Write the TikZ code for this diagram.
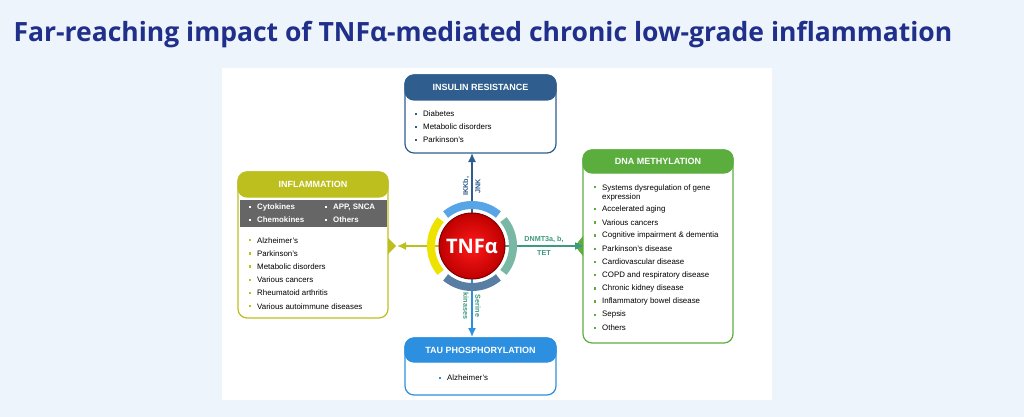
\documentclass[tikz,border=0pt]{standalone}
\usepackage{fontspec}
\setmainfont{Liberation Sans}
\newfontfamily\titlefont{Open Sans}
\usetikzlibrary{positioning,calc,arrows.meta}
\definecolor{bgblue}{HTML}{EEF4FB}
\definecolor{titleblue}{HTML}{1F2F8A}
\definecolor{insblue}{HTML}{2F5E8E}
\definecolor{infolive}{HTML}{BDBF1E}
\definecolor{dnagreen}{HTML}{5BAE3E}
\definecolor{taublue}{HTML}{2D8FE0}
\definecolor{tealarr}{HTML}{3E9A7E}
\tikzset{
  panel/.style={draw=#1, line width=1.2pt, rounded corners=9pt, fill=white},
  header/.style={fill=#1, rounded corners=9pt, draw=#1, line width=1.2pt},
  htext/.style={text=white, font=\bfseries\fontsize{9}{10}\selectfont},
  item/.style={anchor=west, font=\fontsize{7.9}{9.4}\selectfont, inner sep=0},
  bul/.style={fill=#1, minimum size=2.4pt, inner sep=0},
  conn/.style={-{Latex[length=9pt,width=8pt]}, line width=1.5pt, draw=#1},
  elabel/.style={font=\bfseries\fontsize{7.2}{8}\selectfont, text=#1, align=center, inner sep=1pt},
}
\begin{document}
\begin{tikzpicture}[x=1pt,y=-1pt]
\useasboundingbox (0,0) rectangle (1024,417);
\fill[bgblue] (0,0) rectangle (1024,417);
\node[anchor=west, text=titleblue, font=\titlefont\bfseries\fontsize{26.5}{30}\selectfont] (title) at (10,35) {Far-reaching impact of TNFα-mediated chronic low-grade inflammation};
\fill[white] (222,68) rectangle (772,400);

% insulin resistance
\draw[panel=insblue] (405,75) rectangle (556,153);
\draw[header=insblue] (405,75) rectangle (556,100);
\node[htext] (insh) at (480.5,87.5) {INSULIN RESISTANCE};
\foreach \t [count=\i] in {Diabetes, Metabolic disorders, Parkinson's}{
  \node[bul=insblue] at (416,101+\i*13) {};
  \node[item] at (423,101+\i*13) {\t};
}
\coordinate (insb) at (472,153);

% inflammation
\draw[panel=infolive] (238,172) rectangle (388,318);
\draw[header=infolive] (238,172) rectangle (388,197);
\node[htext] (infh) at (313,184.5) {INFLAMMATION};
\fill[gray!80!black] (239.5,200) rectangle (386.5,227);
\foreach \t/\x/\y in {Cytokines/250/207, Chemokines/250/220, {APP, SNCA}/326/207, Others/326/220}{
  \node[bul=white] at (\x,\y) {};
  \node[item, text=white, font=\bfseries\fontsize{7.9}{9}\selectfont] at (\x+7,\y) {\t};
}
\foreach \t [count=\i] in {Alzheimer's, Parkinson's, Metabolic disorders, Various cancers, Rheumatoid arthritis, Various autoimmune diseases}{
  \node[bul=infolive] at (250,227+\i*13.2) {};
  \node[item] at (257,227+\i*13.2) {\t};
}
\fill[infolive] (388,238) -- (396,246) -- (388,254) -- cycle;
\coordinate (infr) at (397,246);

% dna methylation
\draw[panel=dnagreen] (583,150) rectangle (733,343);
\draw[header=dnagreen] (583,150) rectangle (733,173);
\node[htext] (dnah) at (658,161.5) {DNA METHYLATION};
\node[bul=dnagreen] at (595,187) {};
\node[item, align=left] at (602,193) {Systems dysregulation of gene\\expression};
\foreach \t [count=\i] in {Accelerated aging, Various cancers, Cognitive impairment \& dementia, Parkinson's disease, Cardiovascular disease, COPD and respiratory disease, Chronic kidney disease, Inflammatory bowel disease, Sepsis, Others}{
  \node[bul=dnagreen] at (595,196+\i*13.2) {};
  \node[item] at (602,196+\i*13.2) {\t};
}
\fill[dnagreen] (583,236) -- (575,246) -- (583,256) -- cycle;
\coordinate (dnal) at (584,246);

% tau phosphorylation
\draw[panel=taublue] (405,338) rectangle (556,395);
\draw[header=taublue] (405,338) rectangle (556,362);
\node[htext] (tauh) at (480.5,350) {TAU PHOSPHORYLATION};
\node[bul=taublue] at (440,378) {};
\node[item] at (447,378) {Alzheimer's};
\coordinate (taut) at (472,337);

% centre
\coordinate (c) at (472,246);
\draw[conn=insblue] (c) -- (insb);
\draw[conn=infolive] (c) -- (infr);
\draw[conn=tealarr] (c) -- (dnal);
\draw[conn=taublue] (c) -- (taut);
\draw[line width=8pt, insblue!80] ($(c)+(50:41)$) arc[start angle=50, end angle=130, radius=41];
\draw[line width=8pt, yellow!85!olive] ($(c)+(140:41)$) arc[start angle=140, end angle=220, radius=41];
\draw[line width=8pt, taublue!80] ($(c)+(230:41)$) arc[start angle=230, end angle=310, radius=41];
\draw[line width=8pt, tealarr!70] ($(c)+(320:41)$) arc[start angle=320, end angle=400, radius=41];
\node[circle, minimum size=66pt, inner sep=0, draw=red!50!black, line width=1pt,
  inner color=red!90!white, outer color=red!75!black, text=white,
  font=\titlefont\bfseries\fontsize{20}{22}\selectfont] (tnf) at (c) {TNFα};

\node[elabel=insblue, rotate=90] at (466,186) {IKKb,};
\node[elabel=insblue, rotate=90] at (478,186) {JNK};
\node[elabel=tealarr] at (544,239) {DNMT3a, b,};
\node[elabel=tealarr] at (544,253) {TET};
\node[elabel=tealarr, rotate=-90] at (466,306) {kinases};
\node[elabel=tealarr, rotate=-90] at (478,306) {Serine};
\end{tikzpicture}
\end{document}
